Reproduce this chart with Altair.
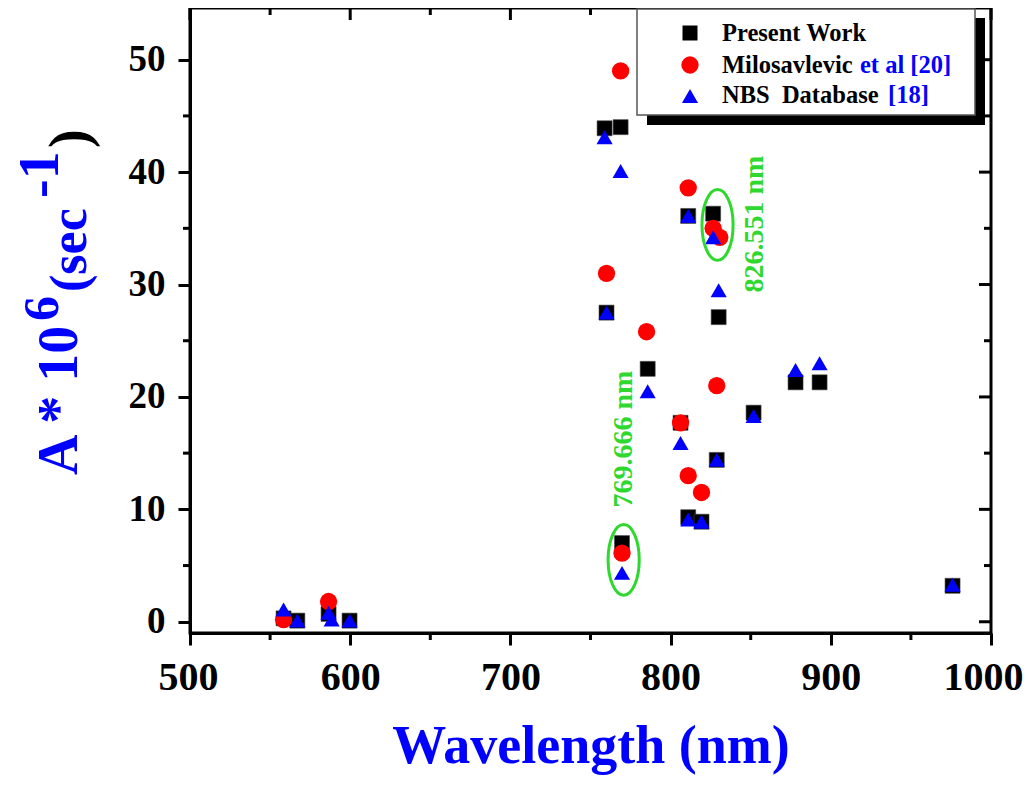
import altair as alt
import pandas as pd

# ---- data ----
pw_wl = [558.4, 567.0, 586.5, 599.6, 758.8, 760.0, 768.8, 769.666, 785.7, 806.2,
         811.0, 811.0, 819.3, 826.551, 830.0, 828.8, 851.8, 878.0, 893.0, 976.0]
pw_a = [0.3, 0.1, 0.7, 0.1, 43.9, 27.5, 44.0, 7.0, 22.5, 17.7,
        36.1, 9.3, 8.9, 36.3, 27.1, 14.4, 18.6, 21.3, 21.3, 3.2]

mil_wl = [558.4, 586.5, 760.0, 768.8, 769.666, 785.0, 806.2, 811.0, 811.0, 819.3,
          826.551, 830.7, 828.8]
mil_a = [0.2, 1.8, 31.0, 49.0, 6.1, 25.8, 17.7, 38.6, 13.0, 11.5,
         35.0, 34.2, 21.0]

nbs_wl = [558.4, 567.0, 586.5, 588.4, 599.6, 758.8, 760.0, 768.8, 769.666, 785.7,
          806.2, 811.0, 811.0, 819.3, 826.551, 830.0, 828.8, 851.8, 878.0, 893.0, 976.0]
nbs_a = [1.1, 0.1, 0.8, 0.2, 0.1, 43.1, 27.5, 40.1, 4.35, 20.5,
         15.9, 36.1, 9.1, 8.9, 34.2, 29.5, 14.4, 18.3, 22.4, 23.0, 3.3]

ell_wl = [770.7, 829.3]
ell_a = [5.5, 35.3]

x_major = [500, 600, 700, 800, 900, 1000]
x_minor = [550, 650, 750, 850, 950]
y_major = [0, 10, 20, 30, 40, 50]
y_minor = [5, 15, 25, 35, 45]

legend_names = ["Present Work", "Milosavlevic", "NBS\u00a0\u00a0Database"]
legend_refs = ["", "et al [20]", "[18]"]

# ---- layout ----
W, H = 801, 625
FONT = "Liberation Serif"
BLUE = "#0000ff"
GREEN = "#2fd82f"

xs = alt.Scale(domain=[500, 1000], nice=False, zero=False)
ys = alt.Scale(domain=[-1, 54.6], nice=False, zero=False)

xaxis = alt.Axis(values=x_major, format="d", title="Wavelength (nm)", titleFont=FONT,
                 titleFontSize=54, titleFontWeight="bold", titleColor=BLUE,
                 titlePadding=22, labelFont=FONT, labelFontSize=40,
                 labelFontWeight="bold", labelColor="black", labelPadding=12,
                 tickSize=12, tickWidth=3, tickColor="black", domainWidth=3,
                 domainColor="black", grid=False, labelFlush=True,
                 labelFlushOffset=32)
yaxis = alt.Axis(values=y_major, format="d", title=None, labelFont=FONT, labelFontSize=37,
                 labelFontWeight="bold", labelColor="black", labelPadding=13,
                 tickSize=12, tickWidth=3, tickColor="black", domainWidth=3,
                 domainColor="black", grid=False, labelFlush=False)

df_pw = pd.DataFrame({"wl": pw_wl, "a": pw_a})
df_mil = pd.DataFrame({"wl": mil_wl, "a": mil_a})
df_nbs = pd.DataFrame({"wl": nbs_wl, "a": nbs_a})
df_ell = pd.DataFrame({"wl": ell_wl, "a": ell_a})

sq = alt.Chart(df_pw).mark_point(shape="square", filled=True, size=225, color="black",
                                 stroke="#444444", strokeWidth=0.6, opacity=1).encode(
    x=alt.X("wl:Q", scale=xs, axis=xaxis), y=alt.Y("a:Q", scale=ys, axis=yaxis))
ci = alt.Chart(df_mil).mark_point(shape="circle", filled=True, size=300, color="#ff0000",
                                  opacity=1).encode(
    x=alt.X("wl:Q", scale=xs), y=alt.Y("a:Q", scale=ys))
tr = alt.Chart(df_nbs).mark_point(shape="triangle-up", filled=True, size=260, color=BLUE,
                                  opacity=1).encode(
    x=alt.X("wl:Q", scale=xs), y=alt.Y("a:Q", scale=ys))

ellipse_path = "M -0.44 0 A 0.44 1 0 1 0 0.44 0 A 0.44 1 0 1 0 -0.44 0 Z"
ell = alt.Chart(df_ell).mark_point(shape=ellipse_path, filled=False, size=5000,
                                   stroke=GREEN, strokeWidth=3, opacity=1).encode(
    x=alt.X("wl:Q", scale=xs), y=alt.Y("a:Q", scale=ys))

# minor / mirrored ticks
df_xmaj = pd.DataFrame({"v": x_major})
df_xmin = pd.DataFrame({"v": x_minor})
df_ymaj = pd.DataFrame({"v": y_major})
df_ymin = pd.DataFrame({"v": y_minor})


def xrule(df, y1, y2):
    return alt.Chart(df).mark_rule(color="black", strokeWidth=3).encode(
        x=alt.X("v:Q", scale=xs), y=alt.value(y1), y2=alt.value(y2))


def yrule(df, x1, x2):
    return alt.Chart(df).mark_rule(color="black", strokeWidth=3).encode(
        y=alt.Y("v:Q", scale=ys), x=alt.value(x1), x2=alt.value(x2))


ticks = [
    xrule(df_xmin, H, H + 7),
    yrule(df_ymin, 0, -7),
    xrule(df_xmaj, 0, 12),
    xrule(df_xmin, 0, 7),
    yrule(df_ymaj, W, W - 12),
    yrule(df_ymin, W, W - 7),
]

one = pd.DataFrame({"k": [0]})


def txt(text, px, py, size, color, angle=0, align="left", baseline="alphabetic"):
    return alt.Chart(one).mark_text(text=text, font=FONT, fontWeight="bold", fontSize=size,
                                    color=color, angle=angle, align=align,
                                    baseline=baseline).encode(
        x=alt.value(px - 190), y=alt.value(py - 8))


# y-axis title pieces (rotated)
ytitle = [
    txt("A * 10", 77, 475, 56, BLUE, 270),
    txt("6", 58, 321, 50, BLUE, 270),
    txt("(sec", 86, 292, 52, BLUE, 270),
    txt("-1", 58, 198, 56, BLUE, 270),
    txt(")", 88, 148, 56, "black", 270),
]

# annotations
ann = [
    txt("769.666 nm", 632, 439, 28, GREEN, 270, "center"),
    txt("826.551 nm", 763, 224, 28, GREEN, 270, "center"),
]


def box(x1, y1, x2, y2, fill, stroke=None):
    kw = dict(fill=fill)
    if stroke:
        kw.update(stroke=stroke, strokeWidth=1.5)
    return alt.Chart(one).mark_rect(**kw).encode(
        x=alt.value(x1 - 190), x2=alt.value(x2 - 190),
        y=alt.value(y1 - 8), y2=alt.value(y2 - 8))


def sym(shape, px, py, size, color):
    return alt.Chart(one).mark_point(shape=shape, filled=True, size=size, color=color,
                                     opacity=1).encode(
        x=alt.value(px - 190), y=alt.value(py - 8))


legend = [
    box(647, 18, 985, 125, "black"),
    box(637, 9, 975, 115, "white", "#555555"),
    sym("square", 690, 33, 225, "black"),
    sym("circle", 690, 65, 300, "#ff0000"),
    sym("triangle-up", 690, 96, 260, BLUE),
    txt(legend_names[0], 722, 41, 24.5, "black"),
    txt(legend_names[1], 722, 73, 24.5, "black"),
    txt(legend_refs[1], 860, 73, 24.5, BLUE),
    txt(legend_names[2], 722, 103, 24.5, "black"),
    txt(legend_refs[2], 888, 103, 24.5, BLUE),
]

chart = alt.layer(
    sq, ci, tr, ell, *ticks, *ytitle, *ann, *legend
).properties(
    width=W, height=H, autosize="none",
    padding={"left": 182, "top": 0, "right": 34, "bottom": 144},
    background="white",
).configure_view(stroke="black", strokeWidth=3)

chart.save("out.html", embed_options={"renderer": "svg", "actions": False})
